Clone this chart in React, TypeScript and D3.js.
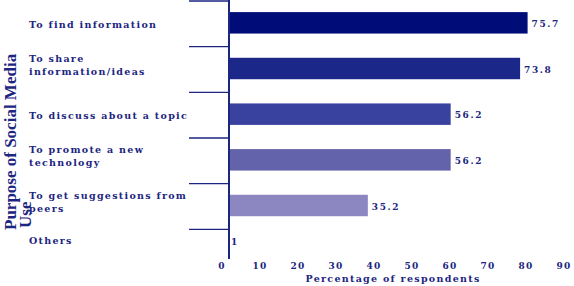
import { useEffect, useRef } from "react";
import * as d3 from "d3";

const categories: string[][] = [
  ["To find information"],
  ["To share", "information/ideas"],
  ["To discuss about a topic"],
  ["To promote a new", "technology"],
  ["To get suggestions from", "peers"],
  ["Others", ""],
];
const values = [75.7, 73.8, 56.2, 56.2, 35.2, 0];
const valueLabels = ["75.7", "73.8", "56.2", "56.2", "35.2", "1"];
const barColors = ["#000d78", "#1b288a", "#3a42a0", "#6363ab", "#8d87c1"];
const xTicks = [0, 10, 20, 30, 40, 50, 60, 70, 80, 90];

const ink = "#1c2580";
const labelFont = "'DejaVu Serif', serif";

export default function App() {
  const svgRef = useRef<SVGSVGElement>(null);

  useEffect(() => {
    if (!svgRef.current) return;
    const width = 574;
    const height = 286;
    const svg = d3.select(svgRef.current);
    svg.selectAll("*").remove();
    svg.attr("width", width).attr("height", height);

    const ids = categories.map((_, i) => String(i));

    // scales
    const x = d3.scaleLinear().domain([0, 90]).range([229, 584]);
    const xLabel = d3.scaleLinear().domain([0, 90]).range([222, 564]);
    const y = d3.scaleBand().domain(ids).range([1, 275]).padding(0);
    const barH = y.bandwidth() * 0.47;

    // band separators
    svg
      .selectAll("line.sep")
      .data(ids)
      .enter()
      .append("line")
      .attr("x1", 189)
      .attr("x2", 229)
      .attr("y1", (d) => y(d)!)
      .attr("y2", (d) => y(d)!)
      .attr("stroke", ink)
      .attr("stroke-width", 1.3);

    // bars
    svg
      .selectAll("rect.bar")
      .data(values)
      .enter()
      .append("rect")
      .attr("x", x(0))
      .attr("y", (_, i) => y(ids[i])! + (y.bandwidth() - barH) / 2 - 1)
      .attr("width", (d) => x(d) - x(0))
      .attr("height", barH)
      .attr("fill", (_, i) => barColors[i] || barColors[barColors.length - 1]);

    // axis line
    svg
      .append("line")
      .attr("x1", x(0))
      .attr("x2", x(0))
      .attr("y1", 0)
      .attr("y2", 259)
      .attr("stroke", ink)
      .attr("stroke-width", 2);

    // value labels
    svg
      .selectAll("text.val")
      .data(values)
      .enter()
      .append("text")
      .attr("x", (d) => x(d) + (d > 0 ? 4 : 2))
      .attr("y", (_, i) => y(ids[i])! + y.bandwidth() / 2 + (i === 5 ? -10 : 0))
      .attr("dy", "0.35em")
      .attr("fill", ink)
      .attr("font-family", labelFont)
      .attr("font-weight", "bold")
      .attr("font-size", 9)
      .attr("letter-spacing", 1.6)
      .text((_, i) => valueLabels[i]);

    // category labels
    const cat = svg
      .selectAll("text.cat")
      .data(categories)
      .enter()
      .append("text")
      .attr("fill", ink)
      .attr("font-family", labelFont)
      .attr("font-weight", "bold")
      .attr("font-size", 9.5)
      .attr("letter-spacing", 1.3);
    cat
      .selectAll("tspan")
      .data((d, i) => d.map((line, j) => ({ line, j, i, n: d.length })))
      .enter()
      .append("tspan")
      .attr("x", 29)
      .attr("y", (d) => {
        const c = y(ids[d.i])! + y.bandwidth() / 2;
        return d.n === 1 ? c + 1 : c - 11 + d.j * 13;
      })
      .attr("dy", "0.35em")
      .text((d) => d.line);

    // x tick labels
    svg
      .selectAll("text.tick")
      .data(xTicks)
      .enter()
      .append("text")
      .attr("x", (d) => xLabel(d))
      .attr("y", 266)
      .attr("dy", "0.35em")
      .attr("text-anchor", "middle")
      .attr("fill", ink)
      .attr("font-family", labelFont)
      .attr("font-weight", "bold")
      .attr("font-size", 9)
      .attr("letter-spacing", 1.3)
      .text((d) => d);

    // x axis title
    svg
      .append("text")
      .attr("x", 393)
      .attr("y", 279)
      .attr("dy", "0.35em")
      .attr("text-anchor", "middle")
      .attr("fill", ink)
      .attr("font-family", labelFont)
      .attr("font-weight", "bold")
      .attr("font-size", 9.5)
      .attr("letter-spacing", 1.3)
      .text("Percentage of respondents");

    // y axis title (two lines, rotated)
    const title = svg
      .append("text")
      .attr("transform", "translate(16,230) rotate(-90)")
      .attr("fill", ink)
      .attr("font-family", "'Liberation Serif', 'Times New Roman', serif")
      .attr("font-weight", "bold")
      .attr("font-size", 17);
    title.append("tspan").attr("x", 0).attr("y", 0).text("Purpose of Social Media");
    title.append("tspan").attr("x", 2).attr("y", 15).text("Use");
  }, []);

  return (
    <div style={{ position: "absolute", left: 0, top: 0 }}>
      <svg ref={svgRef}></svg>
    </div>
  );
}
